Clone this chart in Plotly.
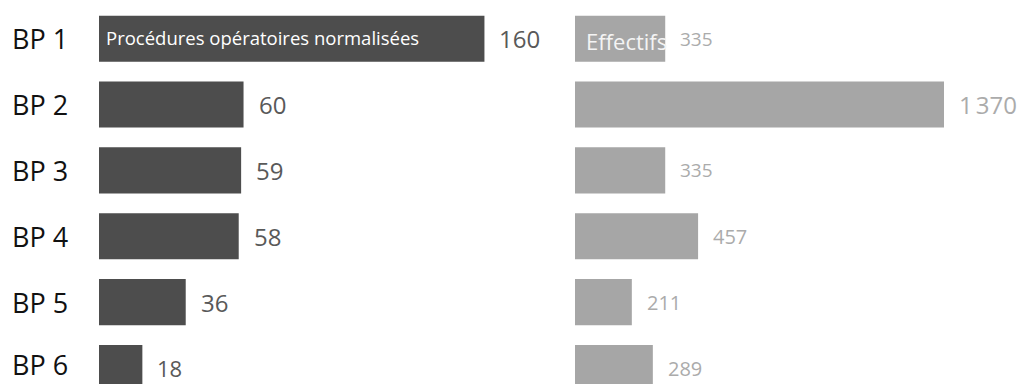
import plotly.graph_objects as go

categories = ["BP 1", "BP 2", "BP 3", "BP 4", "BP 5", "BP 6"]
procedures = [160, 60, 59, 58, 36, 18]
procedures_labels = ["160", "60", "59", "58", "36", "18"]
effectifs = [335, 1370, 335, 457, 211, 289]
effectifs_labels = ["335", "1\u202f370", "335", "457", "211", "289"]
series_names = ["Procédures opératoires normalisées", "Effectifs"]

W, H = 1025, 384
FONT = "Open Sans"
DARK = "#4d4d4d"
LIGHT = "#a6a6a6"

# layout geometry (pixels)
left_x0, left_x1, left_scale = 99, 560, 2.409      # px per unit
right_x0, right_x1, right_scale = 575, 1025, 0.26934
row0, pitch = 38.7, 65.86

left_range = [0, (left_x1 - left_x0) / left_scale]
right_range = [0, (right_x1 - right_x0) / right_scale]
y_top = -row0 / pitch
y_bot = y_top + H / pitch

fig = go.Figure()
fig.add_trace(go.Bar(x=procedures, y=categories, orientation="h",
                     marker=dict(color=DARK, line=dict(width=0)),
                     width=0.7, xaxis="x", yaxis="y", hoverinfo="skip"))
fig.add_trace(go.Bar(x=effectifs, y=categories, orientation="h",
                     marker=dict(color=LIGHT, line=dict(width=0)),
                     width=0.7, xaxis="x2", yaxis="y2", hoverinfo="skip"))

ann = []
left_sizes = [24, 24, 24, 24, 24, 22]
right_sizes = [19, 24, 19, 20, 20, 20]
for c, v, t, s in zip(categories, procedures, procedures_labels, left_sizes):
    ann.append(dict(x=v, y=c, xref="x", yref="y", text=t, showarrow=False,
                    xanchor="left", yanchor="middle", xshift=13,
                    font=dict(family=FONT, size=s, color="#595959")))
for c, v, t, s in zip(categories, effectifs, effectifs_labels, right_sizes):
    ann.append(dict(x=v, y=c, xref="x2", yref="y2", text=t, showarrow=False,
                    xanchor="left", yanchor="middle", xshift=13,
                    font=dict(family=FONT, size=s, color="#ababab")))
for i, c in enumerate(categories):
    ann.append(dict(x=10 / W, y=c, xref="paper", yref="y", text=c, showarrow=False,
                    xanchor="left", yanchor="middle",
                    yshift=4 if i == len(categories) - 1 else 0,
                    font=dict(family=FONT, size=27, color="#111111")))
ann.append(dict(x=0, y=categories[0], xref="x", yref="y", text=series_names[0],
                showarrow=False, xanchor="left", yanchor="middle", xshift=5, yshift=1,
                font=dict(family=FONT, size=18.5, color="#ffffff")))
ann.append(dict(x=0, y=categories[0], xref="x2", yref="y2", text=series_names[1],
                showarrow=False, xanchor="left", yanchor="middle", xshift=9, yshift=-2,
                font=dict(family=FONT, size=22, color="#f4f4f4")))

axis_common = dict(showgrid=False, zeroline=False, showline=False,
                   showticklabels=False, ticks="", fixedrange=True)
fig.update_layout(
    width=W, height=H,
    margin=dict(l=0, r=0, t=0, b=0),
    paper_bgcolor="white", plot_bgcolor="white",
    showlegend=False,
    xaxis=dict(domain=[left_x0 / W, left_x1 / W], range=left_range, **axis_common),
    xaxis2=dict(domain=[right_x0 / W, right_x1 / W], range=right_range, **axis_common),
    yaxis=dict(anchor="x", type="category", categoryorder="array",
               categoryarray=categories, range=[y_bot, y_top], **axis_common),
    yaxis2=dict(anchor="x2", type="category", categoryorder="array",
                categoryarray=categories, range=[y_bot, y_top], **axis_common),
    annotations=ann,
)
fig.write_html("out.html")
